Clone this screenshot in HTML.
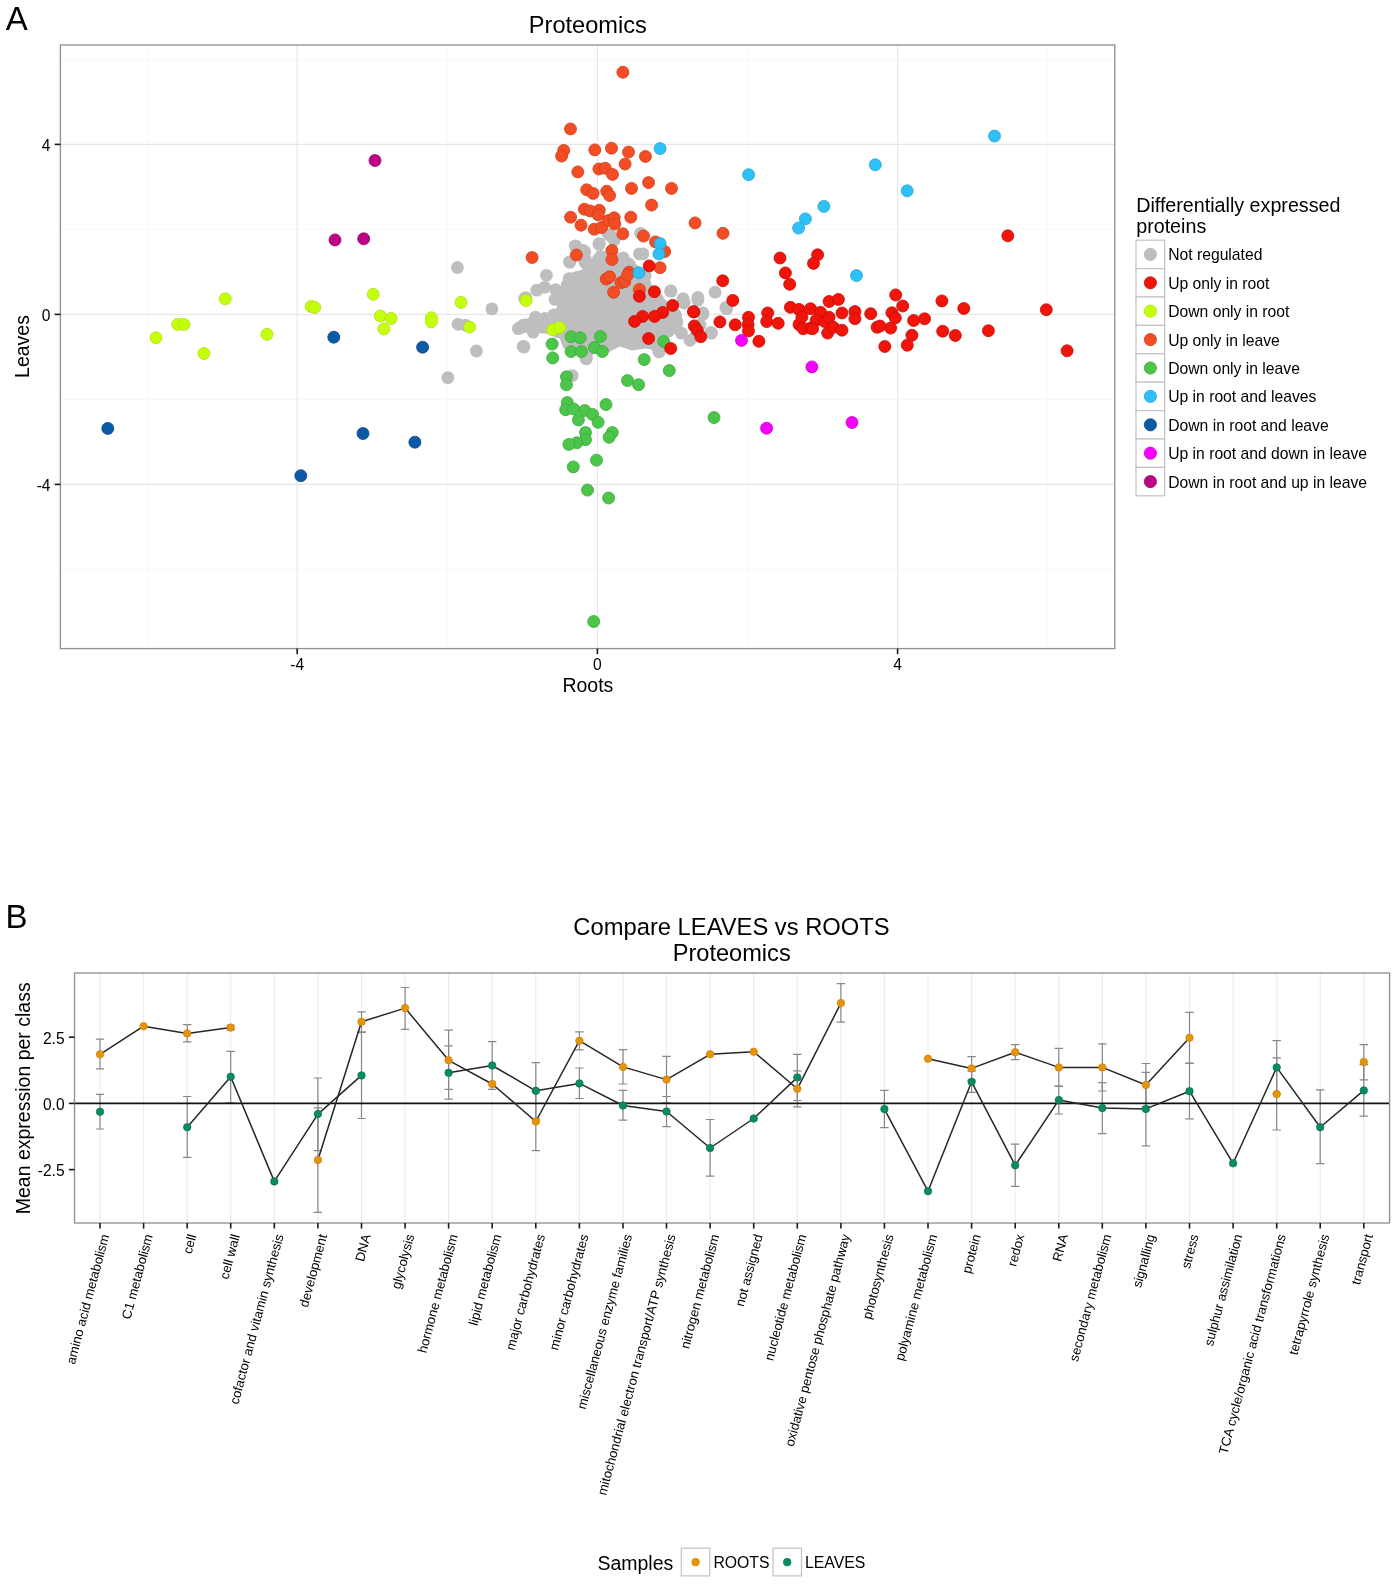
<!DOCTYPE html>
<html><head><meta charset="utf-8"><title>Proteomics</title>
<style>html,body{margin:0;padding:0;background:#fff;}body{width:1395px;height:1584px;overflow:hidden;}svg{display:block;will-change:transform;}</style>
</head><body>
<svg width="1395" height="1584" viewBox="0 0 1395 1584" font-family='"Liberation Sans", sans-serif' fill="#000"><text x="5.8" y="29.7" font-size="33" text-anchor="start" >A</text><text x="587.8" y="33.3" font-size="23.6" text-anchor="middle" >Proteomics</text><g stroke="#ebebeb" fill="none"><line x1="147.1" y1="45" x2="147.1" y2="648.6" stroke-width="0.8" stroke="#f5f5f5"/><line x1="447.3" y1="45" x2="447.3" y2="648.6" stroke-width="0.8" stroke="#f5f5f5"/><line x1="747.5" y1="45" x2="747.5" y2="648.6" stroke-width="0.8" stroke="#f5f5f5"/><line x1="1047.7" y1="45" x2="1047.7" y2="648.6" stroke-width="0.8" stroke="#f5f5f5"/><line x1="60.4" y1="59.4" x2="1114.8" y2="59.4" stroke-width="0.8" stroke="#f5f5f5"/><line x1="60.4" y1="229.4" x2="1114.8" y2="229.4" stroke-width="0.8" stroke="#f5f5f5"/><line x1="60.4" y1="399.4" x2="1114.8" y2="399.4" stroke-width="0.8" stroke="#f5f5f5"/><line x1="60.4" y1="569.4" x2="1114.8" y2="569.4" stroke-width="0.8" stroke="#f5f5f5"/><line x1="297.2" y1="45" x2="297.2" y2="648.6" stroke-width="1.1" stroke="#e6e6e6"/><line x1="597.4" y1="45" x2="597.4" y2="648.6" stroke-width="1.1" stroke="#e6e6e6"/><line x1="897.6" y1="45" x2="897.6" y2="648.6" stroke-width="1.1" stroke="#e6e6e6"/><line x1="60.4" y1="144.4" x2="1114.8" y2="144.4" stroke-width="1.1" stroke="#e6e6e6"/><line x1="60.4" y1="314.4" x2="1114.8" y2="314.4" stroke-width="1.1" stroke="#e6e6e6"/><line x1="60.4" y1="484.4" x2="1114.8" y2="484.4" stroke-width="1.1" stroke="#e6e6e6"/></g><polygon points="562,286 565,275 580,271 593,268 602,264 610,256 618,256 628,264 636,274 646,277 651,285 660,295 668,303 680,311 682,320 680,328 672,336 660,340 655,349 645,348 632,350 620,346 608,352 592,352 586,357 576,352 564,348 560,338 546,333 532,332 517,330 515,324 530,318 546,314 558,308 560,297" fill="#bebebe" stroke="#bebebe" stroke-width="1" stroke-linejoin="round"/><g fill="#bebebe"><circle cx="457.4" cy="267.5" r="6.4"/><circle cx="491.9" cy="308.9" r="6.4"/><circle cx="458.1" cy="324.3" r="6.4"/><circle cx="465.6" cy="325.2" r="6.4"/><circle cx="476.4" cy="351.0" r="6.4"/><circle cx="447.8" cy="377.6" r="6.4"/><circle cx="524.0" cy="347.0" r="6.4"/><circle cx="525.8" cy="297.7" r="6.4"/><circle cx="546.4" cy="275.3" r="6.4"/><circle cx="536.7" cy="290.2" r="6.4"/><circle cx="544.7" cy="287.3" r="6.4"/><circle cx="555.6" cy="289.6" r="6.4"/><circle cx="555.0" cy="299.4" r="6.4"/><circle cx="575.6" cy="246.1" r="6.4"/><circle cx="569.9" cy="262.1" r="6.4"/><circle cx="584.8" cy="262.1" r="6.4"/><circle cx="584.8" cy="251.8" r="6.4"/><circle cx="518.3" cy="328.6" r="6.4"/><circle cx="525.2" cy="326.3" r="6.4"/><circle cx="535.5" cy="317.2" r="6.4"/><circle cx="533.2" cy="332.1" r="6.4"/><circle cx="544.7" cy="318.3" r="6.4"/><circle cx="553.9" cy="314.9" r="6.4"/><circle cx="572.2" cy="375.6" r="6.4"/><circle cx="586.0" cy="358.4" r="6.4"/><circle cx="523.2" cy="346.5" r="6.4"/><circle cx="640.6" cy="233.3" r="6.4"/><circle cx="575.2" cy="245.9" r="6.4"/><circle cx="583.3" cy="250.5" r="6.4"/><circle cx="599.3" cy="243.6" r="6.4"/><circle cx="608.5" cy="234.4" r="6.4"/><circle cx="614.2" cy="240.1" r="6.4"/><circle cx="569.5" cy="261.9" r="6.4"/><circle cx="585.6" cy="261.9" r="6.4"/><circle cx="598.2" cy="259.6" r="6.4"/><circle cx="623.4" cy="259.6" r="6.4"/><circle cx="639.4" cy="253.9" r="6.4"/><circle cx="642.9" cy="253.9" r="6.4"/><circle cx="671.0" cy="291.2" r="6.4"/><circle cx="683.0" cy="298.6" r="6.4"/><circle cx="697.9" cy="297.5" r="6.4"/><circle cx="645.2" cy="275.7" r="6.4"/><circle cx="715.1" cy="292.2" r="6.4"/><circle cx="697.9" cy="300.1" r="6.4"/><circle cx="684.3" cy="303.0" r="6.4"/><circle cx="726.6" cy="308.7" r="6.4"/><circle cx="702.9" cy="313.0" r="6.4"/><circle cx="711.5" cy="333.1" r="6.4"/><circle cx="690.0" cy="340.3" r="6.4"/><circle cx="681.4" cy="333.1" r="6.4"/><circle cx="710.8" cy="332.5" r="6.4"/><circle cx="658.6" cy="350.5" r="6.4"/><circle cx="586.4" cy="358.6" r="6.4"/><circle cx="702.8" cy="314.4" r="6.4"/><circle cx="725.9" cy="307.4" r="6.4"/><circle cx="659.1" cy="351.9" r="6.4"/><circle cx="670.6" cy="290.9" r="6.4"/><circle cx="598.9" cy="244.3" r="6.4"/><circle cx="610.4" cy="235.7" r="6.4"/><circle cx="586.0" cy="260.8" r="6.4"/><circle cx="524.6" cy="298.5" r="6.4"/><circle cx="523.7" cy="346.8" r="6.4"/><circle cx="700.0" cy="325.0" r="6.4"/><circle cx="696.0" cy="336.0" r="6.4"/><circle cx="567.3" cy="285.1" r="6.4"/><circle cx="569.1" cy="278.7" r="6.4"/><circle cx="576.3" cy="277.6" r="6.4"/><circle cx="581.7" cy="276.5" r="6.4"/><circle cx="595.5" cy="273.0" r="6.4"/><circle cx="605.7" cy="267.0" r="6.4"/><circle cx="612.0" cy="262.6" r="6.4"/><circle cx="615.6" cy="260.5" r="6.4"/><circle cx="625.6" cy="272.1" r="6.4"/><circle cx="637.9" cy="280.3" r="6.4"/><circle cx="645.0" cy="284.1" r="6.4"/><circle cx="651.8" cy="293.6" r="6.4"/><circle cx="657.3" cy="299.1" r="6.4"/><circle cx="665.5" cy="309.2" r="6.4"/><circle cx="671.3" cy="312.4" r="6.4"/><circle cx="675.5" cy="315.6" r="6.4"/><circle cx="676.8" cy="321.5" r="6.4"/><circle cx="676.2" cy="324.7" r="6.4"/><circle cx="665.3" cy="332.3" r="6.4"/><circle cx="653.8" cy="338.8" r="6.4"/><circle cx="652.8" cy="343.5" r="6.4"/><circle cx="637.9" cy="342.8" r="6.4"/><circle cx="632.1" cy="343.8" r="6.4"/><circle cx="613.2" cy="341.9" r="6.4"/><circle cx="604.5" cy="346.8" r="6.4"/><circle cx="595.3" cy="347.2" r="6.4"/><circle cx="586.4" cy="348.3" r="6.4"/><circle cx="587.6" cy="351.4" r="6.4"/><circle cx="577.7" cy="346.1" r="6.4"/><circle cx="567.7" cy="341.2" r="6.4"/><circle cx="558.1" cy="331.7" r="6.4"/><circle cx="552.1" cy="328.8" r="6.4"/><circle cx="544.0" cy="327.2" r="6.4"/><circle cx="536.0" cy="325.4" r="6.4"/><circle cx="530.7" cy="325.6" r="6.4"/><circle cx="525.1" cy="324.8" r="6.4"/><circle cx="522.8" cy="325.5" r="6.4"/><circle cx="520.6" cy="327.4" r="6.4"/><circle cx="526.5" cy="326.0" r="6.4"/><circle cx="531.5" cy="323.5" r="6.4"/><circle cx="540.0" cy="320.4" r="6.4"/><circle cx="549.3" cy="319.5" r="6.4"/><circle cx="563.2" cy="308.1" r="6.4"/><circle cx="567.0" cy="295.6" r="6.4"/><circle cx="597.8" cy="264.2" r="6.4"/><circle cx="604.1" cy="267.3" r="6.4"/><circle cx="588.3" cy="267.3" r="6.4"/><circle cx="600.9" cy="256.3" r="6.4"/><circle cx="623.0" cy="257.9" r="6.4"/><circle cx="629.3" cy="264.2" r="6.4"/><circle cx="634.0" cy="270.5" r="6.4"/></g><g fill="#c4ff0c" stroke="#aede0a" stroke-width="0.8"><circle cx="156.0" cy="337.8" r="6.0"/><circle cx="177.7" cy="324.4" r="6.0"/><circle cx="183.9" cy="324.4" r="6.0"/><circle cx="203.9" cy="353.5" r="6.0"/><circle cx="225.2" cy="298.8" r="6.0"/><circle cx="267.0" cy="334.3" r="6.0"/><circle cx="311.2" cy="306.5" r="6.0"/><circle cx="314.7" cy="307.4" r="6.0"/><circle cx="373.2" cy="294.3" r="6.0"/><circle cx="380.4" cy="316.0" r="6.0"/><circle cx="391.1" cy="318.5" r="6.0"/><circle cx="383.9" cy="328.9" r="6.0"/><circle cx="431.4" cy="317.8" r="6.0"/><circle cx="431.4" cy="321.8" r="6.0"/><circle cx="461.0" cy="302.4" r="6.0"/><circle cx="469.6" cy="327.1" r="6.0"/><circle cx="526.1" cy="300.5" r="6.0"/><circle cx="552.7" cy="329.8" r="6.0"/><circle cx="559.6" cy="327.5" r="6.0"/></g><g fill="#4cc64a" stroke="#3ca83a" stroke-width="0.8"><circle cx="552.1" cy="344.1" r="6.0"/><circle cx="552.7" cy="357.9" r="6.0"/><circle cx="571.1" cy="336.7" r="6.0"/><circle cx="580.2" cy="337.8" r="6.0"/><circle cx="571.1" cy="351.6" r="6.0"/><circle cx="581.4" cy="351.6" r="6.0"/><circle cx="600.4" cy="336.5" r="6.0"/><circle cx="594.4" cy="347.5" r="6.0"/><circle cx="602.4" cy="351.5" r="6.0"/><circle cx="644.2" cy="359.6" r="6.0"/><circle cx="663.7" cy="341.5" r="6.0"/><circle cx="669.3" cy="370.6" r="6.0"/><circle cx="627.5" cy="380.6" r="6.0"/><circle cx="638.6" cy="384.7" r="6.0"/><circle cx="566.5" cy="376.8" r="6.0"/><circle cx="566.5" cy="384.8" r="6.0"/><circle cx="567.3" cy="402.6" r="6.0"/><circle cx="565.7" cy="409.7" r="6.0"/><circle cx="573.6" cy="408.9" r="6.0"/><circle cx="578.4" cy="419.9" r="6.0"/><circle cx="584.7" cy="410.5" r="6.0"/><circle cx="592.6" cy="414.4" r="6.0"/><circle cx="598.1" cy="422.3" r="6.0"/><circle cx="606.0" cy="404.5" r="6.0"/><circle cx="714.0" cy="417.6" r="6.0"/><circle cx="585.5" cy="432.6" r="6.0"/><circle cx="585.5" cy="439.7" r="6.0"/><circle cx="576.8" cy="442.8" r="6.0"/><circle cx="568.9" cy="444.4" r="6.0"/><circle cx="612.3" cy="432.6" r="6.0"/><circle cx="609.1" cy="437.3" r="6.0"/><circle cx="596.5" cy="460.2" r="6.0"/><circle cx="573.3" cy="466.9" r="6.0"/><circle cx="587.5" cy="490.1" r="6.0"/><circle cx="608.6" cy="498.0" r="6.0"/><circle cx="593.7" cy="621.5" r="6.0"/></g><g fill="#f24d24" stroke="#cf3f1c" stroke-width="0.8"><circle cx="622.9" cy="72.2" r="6.0"/><circle cx="570.5" cy="128.9" r="6.0"/><circle cx="563.7" cy="150.4" r="6.0"/><circle cx="561.6" cy="156.1" r="6.0"/><circle cx="594.8" cy="149.9" r="6.0"/><circle cx="611.5" cy="148.2" r="6.0"/><circle cx="628.5" cy="152.1" r="6.0"/><circle cx="625.1" cy="164.0" r="6.0"/><circle cx="645.4" cy="156.4" r="6.0"/><circle cx="577.8" cy="171.9" r="6.0"/><circle cx="598.9" cy="169.0" r="6.0"/><circle cx="605.3" cy="168.3" r="6.0"/><circle cx="612.5" cy="174.4" r="6.0"/><circle cx="648.6" cy="182.6" r="6.0"/><circle cx="671.5" cy="188.4" r="6.0"/><circle cx="631.5" cy="188.4" r="6.0"/><circle cx="586.7" cy="189.8" r="6.0"/><circle cx="593.1" cy="193.4" r="6.0"/><circle cx="606.7" cy="191.2" r="6.0"/><circle cx="609.6" cy="195.5" r="6.0"/><circle cx="651.6" cy="205.1" r="6.0"/><circle cx="584.4" cy="209.2" r="6.0"/><circle cx="590.1" cy="210.9" r="6.0"/><circle cx="599.3" cy="210.3" r="6.0"/><circle cx="598.2" cy="214.9" r="6.0"/><circle cx="570.6" cy="217.2" r="6.0"/><circle cx="581.0" cy="225.2" r="6.0"/><circle cx="594.2" cy="229.2" r="6.0"/><circle cx="601.6" cy="227.5" r="6.0"/><circle cx="608.5" cy="220.6" r="6.0"/><circle cx="614.2" cy="217.8" r="6.0"/><circle cx="614.8" cy="224.1" r="6.0"/><circle cx="630.8" cy="217.2" r="6.0"/><circle cx="695.1" cy="222.9" r="6.0"/><circle cx="622.8" cy="233.8" r="6.0"/><circle cx="643.5" cy="236.1" r="6.0"/><circle cx="655.5" cy="241.9" r="6.0"/><circle cx="664.7" cy="251.6" r="6.0"/><circle cx="576.4" cy="255.0" r="6.0"/><circle cx="611.9" cy="250.5" r="6.0"/><circle cx="611.9" cy="259.6" r="6.0"/><circle cx="660.1" cy="267.7" r="6.0"/><circle cx="606.2" cy="279.1" r="6.0"/><circle cx="609.6" cy="276.8" r="6.0"/><circle cx="621.1" cy="282.6" r="6.0"/><circle cx="629.1" cy="272.2" r="6.0"/><circle cx="613.6" cy="292.3" r="6.0"/><circle cx="639.4" cy="289.4" r="6.0"/><circle cx="723.0" cy="233.3" r="6.0"/><circle cx="532.1" cy="257.5" r="6.0"/><circle cx="624.7" cy="281.6" r="6.0"/><circle cx="627.6" cy="275.0" r="6.0"/></g><g fill="#f0140a" stroke="#c40f08" stroke-width="0.8"><circle cx="780.0" cy="258.0" r="6.0"/><circle cx="817.6" cy="254.8" r="6.0"/><circle cx="813.5" cy="263.4" r="6.0"/><circle cx="785.4" cy="272.9" r="6.0"/><circle cx="789.7" cy="284.3" r="6.0"/><circle cx="722.7" cy="280.8" r="6.0"/><circle cx="732.8" cy="300.4" r="6.0"/><circle cx="693.9" cy="311.9" r="6.0"/><circle cx="694.3" cy="325.9" r="6.0"/><circle cx="697.2" cy="330.2" r="6.0"/><circle cx="700.8" cy="336.7" r="6.0"/><circle cx="719.9" cy="321.9" r="6.0"/><circle cx="735.2" cy="324.8" r="6.0"/><circle cx="748.5" cy="317.3" r="6.0"/><circle cx="748.1" cy="324.5" r="6.0"/><circle cx="748.5" cy="330.9" r="6.0"/><circle cx="758.9" cy="341.3" r="6.0"/><circle cx="767.7" cy="313.0" r="6.0"/><circle cx="766.7" cy="321.6" r="6.0"/><circle cx="778.2" cy="323.3" r="6.0"/><circle cx="790.4" cy="307.3" r="6.0"/><circle cx="799.0" cy="309.4" r="6.0"/><circle cx="810.5" cy="308.7" r="6.0"/><circle cx="820.5" cy="312.3" r="6.0"/><circle cx="799.0" cy="324.5" r="6.0"/><circle cx="803.3" cy="328.8" r="6.0"/><circle cx="810.5" cy="328.1" r="6.0"/><circle cx="816.2" cy="320.2" r="6.0"/><circle cx="824.8" cy="321.6" r="6.0"/><circle cx="829.1" cy="317.3" r="6.0"/><circle cx="801.9" cy="317.1" r="6.0"/><circle cx="829.1" cy="301.5" r="6.0"/><circle cx="838.4" cy="299.4" r="6.0"/><circle cx="827.7" cy="333.1" r="6.0"/><circle cx="833.4" cy="327.3" r="6.0"/><circle cx="842.0" cy="330.2" r="6.0"/><circle cx="842.0" cy="313.0" r="6.0"/><circle cx="854.9" cy="311.6" r="6.0"/><circle cx="854.9" cy="318.7" r="6.0"/><circle cx="870.7" cy="313.7" r="6.0"/><circle cx="877.1" cy="327.3" r="6.0"/><circle cx="812.6" cy="328.8" r="6.0"/><circle cx="1007.8" cy="235.8" r="6.0"/><circle cx="895.7" cy="294.9" r="6.0"/><circle cx="902.7" cy="306.0" r="6.0"/><circle cx="891.9" cy="312.8" r="6.0"/><circle cx="895.3" cy="317.9" r="6.0"/><circle cx="890.6" cy="328.1" r="6.0"/><circle cx="880.0" cy="326.0" r="6.0"/><circle cx="913.6" cy="320.5" r="6.0"/><circle cx="924.6" cy="318.8" r="6.0"/><circle cx="911.9" cy="335.3" r="6.0"/><circle cx="907.3" cy="345.2" r="6.0"/><circle cx="884.8" cy="346.5" r="6.0"/><circle cx="941.9" cy="300.9" r="6.0"/><circle cx="963.8" cy="308.5" r="6.0"/><circle cx="942.7" cy="331.2" r="6.0"/><circle cx="955.3" cy="335.5" r="6.0"/><circle cx="988.4" cy="330.7" r="6.0"/><circle cx="1046.3" cy="309.7" r="6.0"/><circle cx="1067.1" cy="350.8" r="6.0"/><circle cx="649.2" cy="265.9" r="6.0"/><circle cx="654.4" cy="291.7" r="6.0"/><circle cx="639.4" cy="296.3" r="6.0"/><circle cx="672.7" cy="305.4" r="6.0"/><circle cx="662.7" cy="312.4" r="6.0"/><circle cx="654.6" cy="316.4" r="6.0"/><circle cx="642.6" cy="316.4" r="6.0"/><circle cx="634.6" cy="321.4" r="6.0"/><circle cx="648.6" cy="338.5" r="6.0"/><circle cx="670.7" cy="348.5" r="6.0"/><circle cx="693.5" cy="311.7" r="6.0"/></g><g fill="#2ec0f6" stroke="#26a6d6" stroke-width="0.8"><circle cx="994.5" cy="136.1" r="6.0"/><circle cx="748.6" cy="174.7" r="6.0"/><circle cx="875.3" cy="164.8" r="6.0"/><circle cx="907.2" cy="190.8" r="6.0"/><circle cx="823.9" cy="206.4" r="6.0"/><circle cx="805.4" cy="218.9" r="6.0"/><circle cx="798.6" cy="228.1" r="6.0"/><circle cx="856.5" cy="275.6" r="6.0"/><circle cx="660.1" cy="148.6" r="6.0"/><circle cx="660.1" cy="243.6" r="6.0"/><circle cx="658.9" cy="253.9" r="6.0"/><circle cx="638.9" cy="272.8" r="6.0"/></g><g fill="#0b5aa6" stroke="#07488a" stroke-width="0.8"><circle cx="107.8" cy="428.4" r="6.0"/><circle cx="300.8" cy="475.7" r="6.0"/><circle cx="333.8" cy="337.2" r="6.0"/><circle cx="363.0" cy="433.5" r="6.0"/><circle cx="414.9" cy="442.2" r="6.0"/><circle cx="422.6" cy="347.2" r="6.0"/></g><g fill="#f500fa" stroke="#cc00d2" stroke-width="0.8"><circle cx="741.5" cy="340.4" r="6.0"/><circle cx="811.9" cy="366.9" r="6.0"/><circle cx="766.6" cy="428.2" r="6.0"/><circle cx="852.0" cy="422.5" r="6.0"/></g><g fill="#bd0484" stroke="#960368" stroke-width="0.8"><circle cx="375.0" cy="160.5" r="6.0"/><circle cx="335.0" cy="239.9" r="6.0"/><circle cx="363.7" cy="238.8" r="6.0"/></g><rect x="60.4" y="45" width="1054.3999999999999" height="603.6" fill="none" stroke="#929292" stroke-width="1.35"/><g stroke="#1a1a1a" stroke-width="1.6"><line x1="54.6" y1="144.4" x2="60.4" y2="144.4"/><line x1="54.6" y1="314.4" x2="60.4" y2="314.4"/><line x1="54.6" y1="484.4" x2="60.4" y2="484.4"/><line x1="297.2" y1="648.6" x2="297.2" y2="654.2"/><line x1="597.4" y1="648.6" x2="597.4" y2="654.2"/><line x1="897.6" y1="648.6" x2="897.6" y2="654.2"/></g><text x="50.5" y="150.6" font-size="15.6" text-anchor="end" >4</text><text x="50.5" y="320.6" font-size="15.6" text-anchor="end" >0</text><text x="50.5" y="490.6" font-size="15.6" text-anchor="end" >-4</text><text x="297.2" y="669.7" font-size="15.6" text-anchor="middle" >-4</text><text x="597.4" y="669.7" font-size="15.6" text-anchor="middle" >0</text><text x="897.6" y="669.7" font-size="15.6" text-anchor="middle" >4</text><text x="587.9" y="691.6" font-size="19.5" text-anchor="middle" >Roots</text><text transform="translate(28.8,346.5) rotate(-90)" font-size="19.5" text-anchor="middle">Leaves</text><text x="1136.2" y="212.4" font-size="19.7" text-anchor="start" >Differentially expressed</text><text x="1136.2" y="233.2" font-size="19.7" text-anchor="start" >proteins</text><rect x="1136" y="240.2" width="28.6" height="28.4" fill="#fff" stroke="#c2c2c2" stroke-width="1.2"/><circle cx="1150.4" cy="254.4" r="6.1" fill="#bebebe" stroke="#b4b4b4" stroke-width="0.8"/><text x="1168.2" y="260.4" font-size="15.7" text-anchor="start" >Not regulated</text><rect x="1136" y="268.6" width="28.6" height="28.4" fill="#fff" stroke="#c2c2c2" stroke-width="1.2"/><circle cx="1150.4" cy="282.8" r="6.1" fill="#f0140a" stroke="#c40f08" stroke-width="0.8"/><text x="1168.2" y="288.8" font-size="15.7" text-anchor="start" >Up only in root</text><rect x="1136" y="297.0" width="28.6" height="28.4" fill="#fff" stroke="#c2c2c2" stroke-width="1.2"/><circle cx="1150.4" cy="311.2" r="6.1" fill="#c4ff0c" stroke="#aede0a" stroke-width="0.8"/><text x="1168.2" y="317.2" font-size="15.7" text-anchor="start" >Down only in root</text><rect x="1136" y="325.4" width="28.6" height="28.4" fill="#fff" stroke="#c2c2c2" stroke-width="1.2"/><circle cx="1150.4" cy="339.6" r="6.1" fill="#f24d24" stroke="#cf3f1c" stroke-width="0.8"/><text x="1168.2" y="345.6" font-size="15.7" text-anchor="start" >Up only in leave</text><rect x="1136" y="353.8" width="28.6" height="28.4" fill="#fff" stroke="#c2c2c2" stroke-width="1.2"/><circle cx="1150.4" cy="368.0" r="6.1" fill="#4cc64a" stroke="#3ca83a" stroke-width="0.8"/><text x="1168.2" y="374.0" font-size="15.7" text-anchor="start" >Down only in leave</text><rect x="1136" y="382.2" width="28.6" height="28.4" fill="#fff" stroke="#c2c2c2" stroke-width="1.2"/><circle cx="1150.4" cy="396.4" r="6.1" fill="#2ec0f6" stroke="#26a6d6" stroke-width="0.8"/><text x="1168.2" y="402.4" font-size="15.7" text-anchor="start" >Up in root and leaves</text><rect x="1136" y="410.6" width="28.6" height="28.4" fill="#fff" stroke="#c2c2c2" stroke-width="1.2"/><circle cx="1150.4" cy="424.8" r="6.1" fill="#0b5aa6" stroke="#07488a" stroke-width="0.8"/><text x="1168.2" y="430.8" font-size="15.7" text-anchor="start" >Down in root and leave</text><rect x="1136" y="439.0" width="28.6" height="28.4" fill="#fff" stroke="#c2c2c2" stroke-width="1.2"/><circle cx="1150.4" cy="453.2" r="6.1" fill="#f500fa" stroke="#cc00d2" stroke-width="0.8"/><text x="1168.2" y="459.2" font-size="15.7" text-anchor="start" >Up in root and down in leave</text><rect x="1136" y="467.4" width="28.6" height="28.4" fill="#fff" stroke="#c2c2c2" stroke-width="1.2"/><circle cx="1150.4" cy="481.6" r="6.1" fill="#bd0484" stroke="#960368" stroke-width="0.8"/><text x="1168.2" y="487.6" font-size="15.7" text-anchor="start" >Down in root and up in leave</text><text x="5.6" y="928" font-size="33" text-anchor="start" >B</text><text x="731.5" y="935.1" font-size="23.75" text-anchor="middle" >Compare LEAVES vs ROOTS</text><text x="731.7" y="960.8" font-size="23.6" text-anchor="middle" >Proteomics</text><g stroke="#ebebeb" stroke-width="1.1"><line x1="100.0" y1="973" x2="100.0" y2="1223"/><line x1="143.6" y1="973" x2="143.6" y2="1223"/><line x1="187.2" y1="973" x2="187.2" y2="1223"/><line x1="230.7" y1="973" x2="230.7" y2="1223"/><line x1="274.3" y1="973" x2="274.3" y2="1223"/><line x1="317.9" y1="973" x2="317.9" y2="1223"/><line x1="361.5" y1="973" x2="361.5" y2="1223"/><line x1="405.1" y1="973" x2="405.1" y2="1223"/><line x1="448.6" y1="973" x2="448.6" y2="1223"/><line x1="492.2" y1="973" x2="492.2" y2="1223"/><line x1="535.8" y1="973" x2="535.8" y2="1223"/><line x1="579.4" y1="973" x2="579.4" y2="1223"/><line x1="623.0" y1="973" x2="623.0" y2="1223"/><line x1="666.5" y1="973" x2="666.5" y2="1223"/><line x1="710.1" y1="973" x2="710.1" y2="1223"/><line x1="753.7" y1="973" x2="753.7" y2="1223"/><line x1="797.3" y1="973" x2="797.3" y2="1223"/><line x1="840.9" y1="973" x2="840.9" y2="1223"/><line x1="884.4" y1="973" x2="884.4" y2="1223"/><line x1="928.0" y1="973" x2="928.0" y2="1223"/><line x1="971.6" y1="973" x2="971.6" y2="1223"/><line x1="1015.2" y1="973" x2="1015.2" y2="1223"/><line x1="1058.8" y1="973" x2="1058.8" y2="1223"/><line x1="1102.3" y1="973" x2="1102.3" y2="1223"/><line x1="1145.9" y1="973" x2="1145.9" y2="1223"/><line x1="1189.5" y1="973" x2="1189.5" y2="1223"/><line x1="1233.1" y1="973" x2="1233.1" y2="1223"/><line x1="1276.7" y1="973" x2="1276.7" y2="1223"/><line x1="1320.2" y1="973" x2="1320.2" y2="1223"/><line x1="1363.8" y1="973" x2="1363.8" y2="1223"/></g><g stroke="#888888" stroke-width="1.2" fill="none"><path d="M95.8 1039.2H104.2M100.0 1039.2V1068.8M95.8 1068.8H104.2"/><path d="M183.0 1024.6H191.4M187.2 1024.6V1041.9M183.0 1041.9H191.4"/><path d="M226.5 1025.4H234.9M230.7 1025.4V1029.8M226.5 1029.8H234.9"/><path d="M313.7 1107.9H322.1M317.9 1107.9V1212.3M313.7 1212.3H322.1"/><path d="M357.3 1011.8H365.7M361.5 1011.8V1032.2M357.3 1032.2H365.7"/><path d="M400.9 987.5H409.3M405.1 987.5V1029.4M400.9 1029.4H409.3"/><path d="M444.4 1030.2H452.8M448.6 1030.2V1089.4M444.4 1089.4H452.8"/><path d="M531.6 1092.4H540.0M535.8 1092.4V1150.6M531.6 1150.6H540.0"/><path d="M575.2 1031.8H583.6M579.4 1031.8V1049.9M575.2 1049.9H583.6"/><path d="M618.8 1049.7H627.2M623.0 1049.7V1084M618.8 1084H627.2"/><path d="M662.3 1056.3H670.7M666.5 1056.3V1102.9M662.3 1102.9H670.7"/><path d="M793.1 1070.8H801.5M797.3 1070.8V1106.8M793.1 1106.8H801.5"/><path d="M836.7 983.6H845.1M840.9 983.6V1022.2M836.7 1022.2H845.1"/><path d="M967.4 1056.7H975.8M971.6 1056.7V1080.1M967.4 1080.1H975.8"/><path d="M1011.0 1044.7H1019.4M1015.2 1044.7V1059.7M1011.0 1059.7H1019.4"/><path d="M1054.6 1048.3H1063.0M1058.8 1048.3V1086.4M1054.6 1086.4H1063.0"/><path d="M1098.1 1043.9H1106.5M1102.3 1043.9V1091M1098.1 1091H1106.5"/><path d="M1141.7 1063.5H1150.1M1145.9 1063.5V1106.5M1141.7 1106.5H1150.1"/><path d="M1185.3 1012.4H1193.7M1189.5 1012.4V1063.2M1185.3 1063.2H1193.7"/><path d="M1272.5 1057.9H1280.9M1276.7 1057.9V1130M1272.5 1130H1280.9"/><path d="M1359.6 1044.7H1368.0M1363.8 1044.7V1079.8M1359.6 1079.8H1368.0"/><path d="M95.8 1094.4H104.2M100.0 1094.4V1129M95.8 1129H104.2"/><path d="M183.0 1096.5H191.4M187.2 1096.5V1157.3M183.0 1157.3H191.4"/><path d="M226.5 1051.3H234.9M230.7 1051.3V1102.9M226.5 1102.9H234.9"/><path d="M313.7 1078H322.1M317.9 1078V1150.6M313.7 1150.6H322.1"/><path d="M357.3 1032.2H365.7M361.5 1032.2V1118.5M357.3 1118.5H365.7"/><path d="M444.4 1045.9H452.8M448.6 1045.9V1099.1M444.4 1099.1H452.8"/><path d="M488.0 1041.7H496.4M492.2 1041.7V1089.3M488.0 1089.3H496.4"/><path d="M531.6 1062.7H540.0M535.8 1062.7V1118.9M531.6 1118.9H540.0"/><path d="M575.2 1068H583.6M579.4 1068V1098.5M575.2 1098.5H583.6"/><path d="M618.8 1090.4H627.2M623.0 1090.4V1120.1M618.8 1120.1H627.2"/><path d="M662.3 1096.5H670.7M666.5 1096.5V1126.6M662.3 1126.6H670.7"/><path d="M705.9 1119.5H714.3M710.1 1119.5V1176.1M705.9 1176.1H714.3"/><path d="M793.1 1054.3H801.5M797.3 1054.3V1100.5M793.1 1100.5H801.5"/><path d="M880.2 1090.4H888.6M884.4 1090.4V1127.6M880.2 1127.6H888.6"/><path d="M967.4 1071.2H975.8M971.6 1071.2V1092.4M967.4 1092.4H975.8"/><path d="M1011.0 1144.2H1019.4M1015.2 1144.2V1186.4M1011.0 1186.4H1019.4"/><path d="M1054.6 1086.2H1063.0M1058.8 1086.2V1114M1054.6 1114H1063.0"/><path d="M1098.1 1082.6H1106.5M1102.3 1082.6V1133.6M1098.1 1133.6H1106.5"/><path d="M1141.7 1072.4H1150.1M1145.9 1072.4V1145.8M1141.7 1145.8H1150.1"/><path d="M1185.3 1063.5H1193.7M1189.5 1063.5V1118.9M1185.3 1118.9H1193.7"/><path d="M1272.5 1040.7H1280.9M1276.7 1040.7V1094.1M1272.5 1094.1H1280.9"/><path d="M1316.0 1089.8H1324.4M1320.2 1089.8V1163.7M1316.0 1163.7H1324.4"/><path d="M1359.6 1064.7H1368.0M1363.8 1064.7V1116.1M1359.6 1116.1H1368.0"/></g><line x1="74.5" y1="1103.3" x2="1389.6" y2="1103.3" stroke="#111" stroke-width="1.7"/><g stroke="#262626" stroke-width="1.5" fill="none" stroke-linejoin="round"><polyline points="100.0,1054.3 143.6,1026.2 187.2,1033.4 230.7,1027.6"/><polyline points="317.9,1159.9 361.5,1021.8 405.1,1008.1 448.6,1060.3 492.2,1084 535.8,1121.5 579.4,1040.7 623.0,1066.9 666.5,1079.6 710.1,1054.3 753.7,1051.7 797.3,1088.8 840.9,1003.1"/><polyline points="928.0,1058.7 971.6,1068.4 1015.2,1052.3 1058.8,1067.4 1102.3,1067.4 1145.9,1085 1189.5,1037.8"/><polyline points="187.2,1127.2 230.7,1076.8 274.3,1181.4 317.9,1114.1 361.5,1075.4"/><polyline points="448.6,1072.8 492.2,1065.5 535.8,1090.8 579.4,1083.4 623.0,1105.5 666.5,1111.5 710.1,1148 753.7,1118.5 797.3,1077.4"/><polyline points="884.4,1109.1 928.0,1191.2 971.6,1081.8 1015.2,1165.3 1058.8,1100.1 1102.3,1108.1 1145.9,1108.9 1189.5,1091.2 1233.1,1163.3 1276.7,1067.4 1320.2,1127.2 1363.8,1090.4"/></g><g fill="#E5940A" stroke="#c8820c" stroke-width="0.7"><circle cx="100.0" cy="1054.3" r="3.75"/><circle cx="143.6" cy="1026.2" r="3.75"/><circle cx="187.2" cy="1033.4" r="3.75"/><circle cx="230.7" cy="1027.6" r="3.75"/><circle cx="317.9" cy="1159.9" r="3.75"/><circle cx="361.5" cy="1021.8" r="3.75"/><circle cx="405.1" cy="1008.1" r="3.75"/><circle cx="448.6" cy="1060.3" r="3.75"/><circle cx="492.2" cy="1084" r="3.75"/><circle cx="535.8" cy="1121.5" r="3.75"/><circle cx="579.4" cy="1040.7" r="3.75"/><circle cx="623.0" cy="1066.9" r="3.75"/><circle cx="666.5" cy="1079.6" r="3.75"/><circle cx="710.1" cy="1054.3" r="3.75"/><circle cx="753.7" cy="1051.7" r="3.75"/><circle cx="797.3" cy="1088.8" r="3.75"/><circle cx="840.9" cy="1003.1" r="3.75"/><circle cx="928.0" cy="1058.7" r="3.75"/><circle cx="971.6" cy="1068.4" r="3.75"/><circle cx="1015.2" cy="1052.3" r="3.75"/><circle cx="1058.8" cy="1067.4" r="3.75"/><circle cx="1102.3" cy="1067.4" r="3.75"/><circle cx="1145.9" cy="1085" r="3.75"/><circle cx="1189.5" cy="1037.8" r="3.75"/><circle cx="1276.7" cy="1094" r="3.75"/><circle cx="1363.8" cy="1061.9" r="3.75"/></g><g fill="#0C8C5E" stroke="#0a7250" stroke-width="0.7"><circle cx="100.0" cy="1111.7" r="3.75"/><circle cx="187.2" cy="1127.2" r="3.75"/><circle cx="230.7" cy="1076.8" r="3.75"/><circle cx="274.3" cy="1181.4" r="3.75"/><circle cx="317.9" cy="1114.1" r="3.75"/><circle cx="361.5" cy="1075.4" r="3.75"/><circle cx="448.6" cy="1072.8" r="3.75"/><circle cx="492.2" cy="1065.5" r="3.75"/><circle cx="535.8" cy="1090.8" r="3.75"/><circle cx="579.4" cy="1083.4" r="3.75"/><circle cx="623.0" cy="1105.5" r="3.75"/><circle cx="666.5" cy="1111.5" r="3.75"/><circle cx="710.1" cy="1148" r="3.75"/><circle cx="753.7" cy="1118.5" r="3.75"/><circle cx="797.3" cy="1077.4" r="3.75"/><circle cx="884.4" cy="1109.1" r="3.75"/><circle cx="928.0" cy="1191.2" r="3.75"/><circle cx="971.6" cy="1081.8" r="3.75"/><circle cx="1015.2" cy="1165.3" r="3.75"/><circle cx="1058.8" cy="1100.1" r="3.75"/><circle cx="1102.3" cy="1108.1" r="3.75"/><circle cx="1145.9" cy="1108.9" r="3.75"/><circle cx="1189.5" cy="1091.2" r="3.75"/><circle cx="1233.1" cy="1163.3" r="3.75"/><circle cx="1276.7" cy="1067.4" r="3.75"/><circle cx="1320.2" cy="1127.2" r="3.75"/><circle cx="1363.8" cy="1090.4" r="3.75"/></g><rect x="74.5" y="973" width="1315.1" height="250" fill="none" stroke="#929292" stroke-width="1.35"/><g stroke="#1a1a1a" stroke-width="1.6"><line x1="68.9" y1="1037.2" x2="74.5" y2="1037.2"/><line x1="68.9" y1="1103.4" x2="74.5" y2="1103.4"/><line x1="68.9" y1="1169.6" x2="74.5" y2="1169.6"/><line x1="100.0" y1="1223" x2="100.0" y2="1228.6"/><line x1="143.6" y1="1223" x2="143.6" y2="1228.6"/><line x1="187.2" y1="1223" x2="187.2" y2="1228.6"/><line x1="230.7" y1="1223" x2="230.7" y2="1228.6"/><line x1="274.3" y1="1223" x2="274.3" y2="1228.6"/><line x1="317.9" y1="1223" x2="317.9" y2="1228.6"/><line x1="361.5" y1="1223" x2="361.5" y2="1228.6"/><line x1="405.1" y1="1223" x2="405.1" y2="1228.6"/><line x1="448.6" y1="1223" x2="448.6" y2="1228.6"/><line x1="492.2" y1="1223" x2="492.2" y2="1228.6"/><line x1="535.8" y1="1223" x2="535.8" y2="1228.6"/><line x1="579.4" y1="1223" x2="579.4" y2="1228.6"/><line x1="623.0" y1="1223" x2="623.0" y2="1228.6"/><line x1="666.5" y1="1223" x2="666.5" y2="1228.6"/><line x1="710.1" y1="1223" x2="710.1" y2="1228.6"/><line x1="753.7" y1="1223" x2="753.7" y2="1228.6"/><line x1="797.3" y1="1223" x2="797.3" y2="1228.6"/><line x1="840.9" y1="1223" x2="840.9" y2="1228.6"/><line x1="884.4" y1="1223" x2="884.4" y2="1228.6"/><line x1="928.0" y1="1223" x2="928.0" y2="1228.6"/><line x1="971.6" y1="1223" x2="971.6" y2="1228.6"/><line x1="1015.2" y1="1223" x2="1015.2" y2="1228.6"/><line x1="1058.8" y1="1223" x2="1058.8" y2="1228.6"/><line x1="1102.3" y1="1223" x2="1102.3" y2="1228.6"/><line x1="1145.9" y1="1223" x2="1145.9" y2="1228.6"/><line x1="1189.5" y1="1223" x2="1189.5" y2="1228.6"/><line x1="1233.1" y1="1223" x2="1233.1" y2="1228.6"/><line x1="1276.7" y1="1223" x2="1276.7" y2="1228.6"/><line x1="1320.2" y1="1223" x2="1320.2" y2="1228.6"/><line x1="1363.8" y1="1223" x2="1363.8" y2="1228.6"/></g><text x="64.6" y="1043.8" font-size="15.6" text-anchor="end" >2.5</text><text x="64.6" y="1109.9" font-size="15.6" text-anchor="end" >0.0</text><text x="64.6" y="1176.1" font-size="15.6" text-anchor="end" >-2.5</text><text transform="translate(30.3,1098.3) rotate(-90)" font-size="19.5" text-anchor="middle">Mean expression per class</text><text transform="translate(109.3,1235.6) rotate(-75)" font-size="13.1" text-anchor="end">amino acid metabolism</text><text transform="translate(152.9,1235.6) rotate(-75)" font-size="13.1" text-anchor="end">C1 metabolism</text><text transform="translate(196.5,1235.6) rotate(-75)" font-size="13.1" text-anchor="end">cell</text><text transform="translate(240.0,1235.6) rotate(-75)" font-size="13.1" text-anchor="end">cell wall</text><text transform="translate(283.6,1235.6) rotate(-75)" font-size="13.1" text-anchor="end">cofactor and vitamin synthesis</text><text transform="translate(327.2,1235.6) rotate(-75)" font-size="13.1" text-anchor="end">development</text><text transform="translate(370.8,1235.6) rotate(-75)" font-size="13.1" text-anchor="end">DNA</text><text transform="translate(414.4,1235.6) rotate(-75)" font-size="13.1" text-anchor="end">glycolysis</text><text transform="translate(457.9,1235.6) rotate(-75)" font-size="13.1" text-anchor="end">hormone metabolism</text><text transform="translate(501.5,1235.6) rotate(-75)" font-size="13.1" text-anchor="end">lipid metabolism</text><text transform="translate(545.1,1235.6) rotate(-75)" font-size="13.1" text-anchor="end">major carbohydrates</text><text transform="translate(588.7,1235.6) rotate(-75)" font-size="13.1" text-anchor="end">minor carbohydrates</text><text transform="translate(632.3,1235.6) rotate(-75)" font-size="13.1" text-anchor="end">miscellaneous enzyme families</text><text transform="translate(675.8,1235.6) rotate(-75)" font-size="13.1" text-anchor="end">mitochondrial electron transport/ATP synthesis</text><text transform="translate(719.4,1235.6) rotate(-75)" font-size="13.1" text-anchor="end">nitrogen metabolism</text><text transform="translate(763.0,1235.6) rotate(-75)" font-size="13.1" text-anchor="end">not assigned</text><text transform="translate(806.6,1235.6) rotate(-75)" font-size="13.1" text-anchor="end">nucleotide metabolism</text><text transform="translate(850.2,1235.6) rotate(-75)" font-size="13.1" text-anchor="end">oxidative pentose phosphate pathway</text><text transform="translate(893.7,1235.6) rotate(-75)" font-size="13.1" text-anchor="end">photosynthesis</text><text transform="translate(937.3,1235.6) rotate(-75)" font-size="13.1" text-anchor="end">polyamine metabolism</text><text transform="translate(980.9,1235.6) rotate(-75)" font-size="13.1" text-anchor="end">protein</text><text transform="translate(1024.5,1235.6) rotate(-75)" font-size="13.1" text-anchor="end">redox</text><text transform="translate(1068.1,1235.6) rotate(-75)" font-size="13.1" text-anchor="end">RNA</text><text transform="translate(1111.6,1235.6) rotate(-75)" font-size="13.1" text-anchor="end">secondary metabolism</text><text transform="translate(1155.2,1235.6) rotate(-75)" font-size="13.1" text-anchor="end">signalling</text><text transform="translate(1198.8,1235.6) rotate(-75)" font-size="13.1" text-anchor="end">stress</text><text transform="translate(1242.4,1235.6) rotate(-75)" font-size="13.1" text-anchor="end">sulphur assimilation</text><text transform="translate(1286.0,1235.6) rotate(-75)" font-size="13.1" text-anchor="end">TCA cycle/organic acid transformations</text><text transform="translate(1329.5,1235.6) rotate(-75)" font-size="13.1" text-anchor="end">tetrapyrrole synthesis</text><text transform="translate(1373.1,1235.6) rotate(-75)" font-size="13.1" text-anchor="end">transport</text><text x="597.4" y="1569.9" font-size="19.5" text-anchor="start" >Samples</text><rect x="681.3" y="1548.2" width="28.5" height="27.7" fill="#fff" stroke="#c2c2c2" stroke-width="1.2"/><circle cx="695.6" cy="1562.2" r="4.1" fill="#E5940A"/><text x="713.4" y="1568.3" font-size="15.8" text-anchor="start" >ROOTS</text><rect x="773" y="1548.2" width="28.5" height="27.7" fill="#fff" stroke="#c2c2c2" stroke-width="1.2"/><circle cx="787.2" cy="1562.2" r="4.1" fill="#0C8C5E"/><text x="805.0" y="1568.3" font-size="15.8" text-anchor="start" >LEAVES</text></svg>
</body></html>
